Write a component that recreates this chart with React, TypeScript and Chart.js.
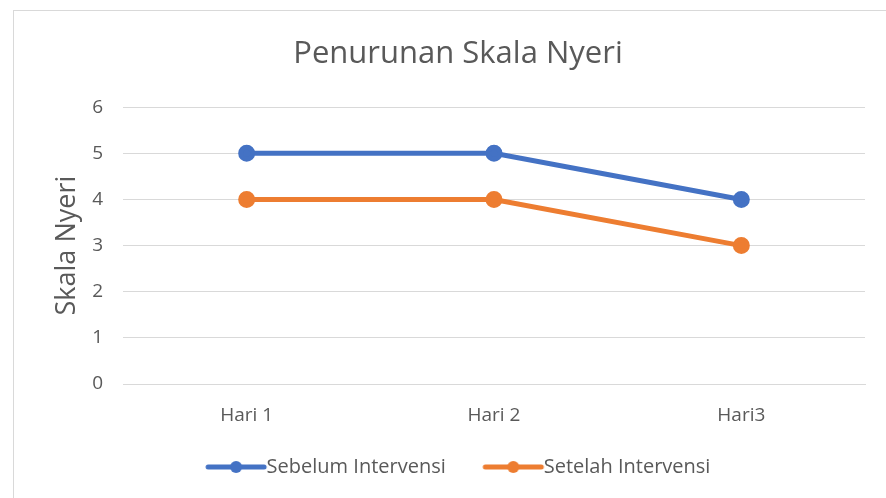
import React, { useEffect, useRef } from "react";
import { Chart, registerables } from "chart.js";

Chart.register(...registerables);

const categories = ["Hari 1", "Hari 2", "Hari3"];
const sebelum = [5, 5, 4];
const setelah = [4, 4, 3];
const seriesNames = ["Sebelum Intervensi", "Setelah Intervensi"];
const seriesColors = ["#4472C4", "#ED7D31"];
const chartTitle = "Penurunan Skala Nyeri";
const yTitle = "Skala Nyeri";

const FONT = "'Open Sans', sans-serif";
const TEXT = "#595959";

function legendMarker(color: string): HTMLCanvasElement {
  const c = document.createElement("canvas");
  c.width = 90;
  c.height = 14;
  const ctx = c.getContext("2d")!;
  ctx.strokeStyle = color;
  ctx.lineWidth = 5;
  ctx.lineCap = "round";
  ctx.beginPath();
  ctx.moveTo(22, 7);
  ctx.lineTo(78, 7);
  ctx.stroke();
  ctx.fillStyle = color;
  ctx.beginPath();
  ctx.arc(50, 7, 6, 0, Math.PI * 2);
  ctx.fill();
  return c;
}

export default function App() {
  const ref = useRef<HTMLCanvasElement | null>(null);
  useEffect(() => {
    if (!ref.current) return;
    const markers = seriesColors.map(legendMarker);
    const chart = new Chart(ref.current, {
      type: "line",
      data: {
        labels: categories,
        datasets: [
          {
            label: seriesNames[0],
            data: sebelum,
            borderColor: seriesColors[0],
            backgroundColor: seriesColors[0],
            borderWidth: 5,
            pointRadius: 6,
            pointHoverRadius: 6,
            borderCapStyle: "round",
            tension: 0,
          },
          {
            label: seriesNames[1],
            data: setelah,
            borderColor: seriesColors[1],
            backgroundColor: seriesColors[1],
            borderWidth: 5,
            pointRadius: 6,
            pointHoverRadius: 6,
            borderCapStyle: "round",
            tension: 0,
          },
        ],
      },
      options: {
        animation: false,
        responsive: false,
        layout: { padding: { left: 51, right: 21, top: 0, bottom: 11 } },
        plugins: {
          title: {
            display: true,
            text: chartTitle,
            color: TEXT,
            font: { family: FONT, size: 31, weight: "normal", lineHeight: 1.2 },
            padding: { top: 36, bottom: 34 },
          },
          legend: {
            position: "bottom",
            labels: {
              color: TEXT,
              font: { family: FONT, size: 20 },
              usePointStyle: true,
              pointStyleWidth: 51,
              padding: 37,
              generateLabels: (ch: any) => {
                const items = Chart.defaults.plugins.legend.labels.generateLabels(ch);
                return items.map((it: any, i: number) => ({ ...it, pointStyle: markers[i] }));
              },
            },
          },
          tooltip: { enabled: false },
        },
        scales: {
          x: {
            offset: true,
            grid: { display: false, drawTicks: false },
            border: { color: "#d9d9d9" },
            ticks: { color: TEXT, font: { family: FONT, size: 19 }, padding: 20 },
            afterFit: (s: any) => {
              s.height = 36;
              s._computeLabelArea = () => undefined;
            },
          },
          y: {
            min: 0,
            max: 6,
            afterFit: (s: any) => {
              s.width = 72;
            },
            ticks: { stepSize: 1, color: TEXT, font: { family: FONT, size: 19 }, padding: 20 },
            grid: { color: "#d9d9d9", drawTicks: false },
            border: { display: false },
            title: {
              display: true,
              text: yTitle,
              color: TEXT,
              font: { family: FONT, size: 27 },
              padding: 0,
            },
          },
        },
      },
    });
    return () => chart.destroy();
  }, []);
  return (
    <div style={{ position: "fixed", left: 0, top: 0, width: 886, height: 498, overflow: "hidden", background: "#fff" }}>
      <canvas ref={ref} width={886} height={498} style={{ position: "absolute", left: 0, top: 0 }} />
      <div
        style={{
          position: "absolute",
          left: 13,
          top: 10,
          width: 900,
          height: 600,
          border: "1px solid #d9d9d9",
          pointerEvents: "none",
        }}
      />
    </div>
  );
}
